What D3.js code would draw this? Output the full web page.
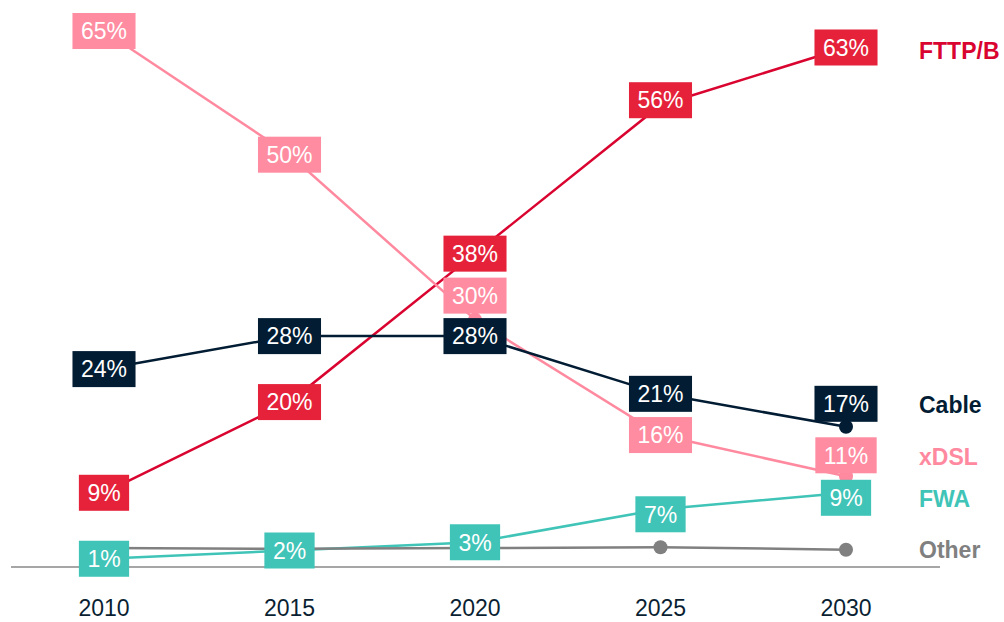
<!DOCTYPE html>
<html lang="en">
<head>
  <meta charset="UTF-8">
  <title>Broadband technology share</title>
  <script src="https://d3js.org/d3.v7.min.js"></script>
  <style>
    body { margin: 0; background: #fff; }
    svg { display: block; font-family: "Liberation Sans", Arial, sans-serif; }
    .year { font-size: 23px; fill: #0b1f33; }
    .name { font-size: 23px; font-weight: bold; }
    .val { font-size: 23px; fill: #fff; }
  </style>
</head>
<body>
  <svg width="1004" height="622"></svg>

  <script>
    // data
    const years = ["2010", "2015", "2020", "2025", "2030"];
    const fttp  = [9, 20, 38, 56, 63];
    const xdsl  = [65, 50, 30, 16, 11];
    const cable = [24, 28, 28, 21, 17];
    const fwa   = [1, 2, 3, 7, 9];
    const other = [2.3, 2.2, 2.3, 2.4, 2.1];

    const series = [
      { name: "FTTP/B", values: fttp,  line: "#d9042f", box: "#e5223a", labels: true },
      { name: "xDSL",   values: xdsl,  line: "#ff8a9f", box: "#ff8ca0", labels: true },
      { name: "Cable",  values: cable, line: "#011c33", box: "#011c33", labels: true },
      { name: "FWA",    values: fwa,   line: "#3fc4b7", box: "#3fc4b7", labels: true },
      { name: "Other",  values: other, line: "#808080", box: "#808080", labels: false }
    ];

    // label nudges (px) where the box sits off its point
    const nudge = { "xDSL-2": -24, "xDSL-4": -21, "Cable-4": -23, "FWA-4": 5, "FWA-3": 5, "FTTP/B-3": -5 };
    // legend y positions in value units (right side names)
    const legendY = { "FTTP/B": 62.6, "Cable": 19.7, "xDSL": 13.3, "FWA": 8.2, "Other": 2.1 };

    const svg = d3.select("svg");

    const x = d3.scalePoint().domain(years).range([104, 846]);
    const y = d3.scaleLinear().domain([0, 65]).range([567, 31]);

    // baseline
    svg.append("line")
      .attr("x1", 11).attr("x2", 940)
      .attr("y1", y(0)).attr("y2", y(0))
      .attr("stroke", "#a6a6a6").attr("stroke-width", 2);

    // x labels
    svg.selectAll(".year")
      .data(years)
      .join("text")
      .attr("class", "year")
      .attr("x", d => x(d))
      .attr("y", 616)
      .attr("text-anchor", "middle")
      .text(d => d);

    const line = d3.line()
      .x((d, i) => x(years[i]))
      .y(d => y(d));

    // lines
    svg.selectAll(".series")
      .data(series)
      .join("path")
      .attr("class", "series")
      .attr("d", s => line(s.values))
      .attr("fill", "none")
      .attr("stroke", s => s.line)
      .attr("stroke-width", 2.5);

    // dots
    series.forEach(s => {
      svg.selectAll(null)
        .data(s.values)
        .join("circle")
        .attr("cx", (d, i) => x(years[i]))
        .attr("cy", d => y(d))
        .attr("r", 7)
        .attr("fill", s.line);
    });

    // value boxes
    series.filter(s => s.labels).forEach(s => {
      const g = svg.selectAll(null)
        .data(s.values)
        .join("g")
        .attr("transform", (d, i) =>
          `translate(${x(years[i])},${y(d) + (nudge[s.name + "-" + i] || 0)})`);

      g.append("text")
        .attr("class", "val")
        .attr("text-anchor", "middle")
        .attr("dy", "0.36em")
        .text(d => d + "%");

      g.each(function() {
        const w = d3.select(this).select("text").node().getComputedTextLength() + 17;
        d3.select(this).insert("rect", "text")
          .attr("x", -w / 2).attr("y", -18)
          .attr("width", w).attr("height", 36)
          .attr("fill", s.box);
      });
    });

    // series names on the right
    svg.selectAll(".name")
      .data(series)
      .join("text")
      .attr("class", "name")
      .attr("x", 919)
      .attr("y", s => y(legendY[s.name]))
      .attr("dy", "0.35em")
      .attr("fill", s => s.line)
      .text(s => s.name);
  </script>
</body>
</html>
